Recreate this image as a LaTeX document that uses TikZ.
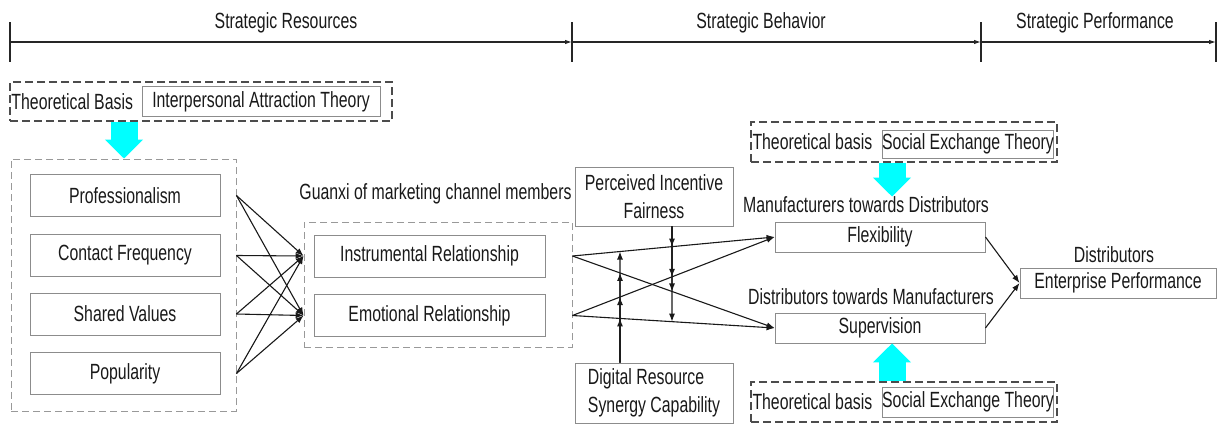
\documentclass[tikz,border=0pt]{standalone}
\usepackage{fontspec}
\setmainfont{Liberation Sans}[FakeStretch=0.72]
\usetikzlibrary{arrows.meta}
\definecolor{aqua}{RGB}{0,255,255}

\begin{document}
\begin{tikzpicture}[x=1pt,y=-1pt,
  lbl/.style={font=\fontsize{22}{28}\selectfont, text=black!90, inner sep=1pt},
  ibox/.style={lbl, draw=black!45, line width=0.9pt, rectangle, inner sep=0pt},
  grpbox/.style={draw=black!40, line width=0.9pt, dash pattern=on 7pt off 4pt, inner sep=0pt},
  thbox/.style={draw=black!70, line width=1.4pt, dash pattern=on 8pt off 4pt, inner sep=0pt},
  conn/.style={draw=black!90, line width=1.1pt, -{Latex[length=8pt,width=6pt]}},
  axis/.style={draw=black!85, line width=1.1pt},
  blockarrow/.style={draw=aqua, line width=27pt, -{Triangle[length=19pt,width=37pt]}},
]
\useasboundingbox (0,0) rectangle (1217,423);

% stage headings and time line
\node[lbl] (hR) at (286,23) {Strategic Resources};
\node[lbl] (hB) at (761,23) {Strategic Behavior};
\node[lbl] (hP) at (1095,23) {Strategic Performance};
\coordinate (t0) at (10,42);
\coordinate (t1) at (572,42);
\coordinate (t2) at (981,42);
\coordinate (t3) at (1216,42);
\foreach \t in {t0,t1,t2,t3}
  \draw[axis] ([yshift=20pt]\t) -- ([yshift=-20pt]\t);
\draw[axis,-{Latex[length=7pt,width=4.5pt]}] (t0) -- (t1);
\draw[axis,-{Latex[length=7pt,width=4.5pt]}] (t1) -- (t2);
\draw[axis,-{Latex[length=7pt,width=4.5pt]}] (t2) -- (t3);

% theoretical basis of the resources
\node[thbox, minimum width=382pt, minimum height=39pt] (tbL) at (201,101.5) {};
\node[lbl, anchor=west] (tbLt) at ([xshift=1pt]tbL.west) {Theoretical Basis};
\node[ibox, minimum width=238pt, minimum height=30pt] (tbLi) at (261,101.5) {Interpersonal Attraction Theory};

% resource factors
\node[grpbox, minimum width=225pt, minimum height=252pt] (grp) at (123.5,285) {};
\node[ibox, minimum width=190pt, minimum height=42pt] (pro) at (125,195.5) {Professionalism};
\node[ibox, minimum width=190pt, minimum height=42pt] (con) at (125,255.5) {Contact Frequency};
\node[ibox, minimum width=190pt, minimum height=42pt] (sha) at (125,314) {Shared Values};
\node[ibox, minimum width=190pt, minimum height=42pt] (pop) at (125,373.5) {Popularity};
\coordinate (aL) at (124,0);
\draw[blockarrow] (tbL.south -| aL) -- (grp.north -| aL);

% guanxi
\node[lbl] (gx) at (435.5,194) {Guanxi of marketing channel members};
\node[grpbox, minimum width=268pt, minimum height=125pt] (mid) at (438,284.5) {};
\node[ibox, minimum width=231pt, minimum height=42pt] (ins) at (429.5,256) {Instrumental Relationship};
\node[ibox, minimum width=231pt, minimum height=42pt] (emo) at (429.5,315.5) {Emotional Relationship};
\foreach \s in {pro,con,sha,pop}
  \foreach \d in {ins,emo}
    \draw[conn] (grp.east |- \s) -- (mid.west |- \d);

% moderators
\node[ibox, minimum width=158pt, minimum height=59pt, align=center] (per) at (654,196.5) {Perceived Incentive\\Fairness};
\node[ibox, minimum width=158pt, minimum height=60pt, align=left] (dig) at (654,393) {Digital Resource\\Synergy Capability};

% strategic behaviour
\node[lbl] (mtd) at (866,205) {Manufacturers towards Distributors};
\node[ibox, minimum width=210pt, minimum height=30pt] (flex) at (880,237) {Flexibility};
\node[lbl] (dtm) at (871,297) {Distributors towards Manufacturers};
\node[ibox, minimum width=210pt, minimum height=30pt] (sup) at (880,328) {Supervision};

\node[thbox, minimum width=306pt, minimum height=40pt] (tbT) at (904,142) {};
\node[lbl, anchor=west] (tbTt) at ([xshift=1pt]tbT.west) {Theoretical basis};
\node[ibox, minimum width=170pt, minimum height=28pt] (tbTi) at (968,144) {Social Exchange Theory};
\node[thbox, minimum width=306pt, minimum height=40pt] (tbB) at (904,402) {};
\node[lbl, anchor=west] (tbBt) at ([xshift=1pt]tbB.west) {Theoretical basis};
\node[ibox, minimum width=170pt, minimum height=30pt] (tbBi) at (968,402) {Social Exchange Theory};
\coordinate (aT) at (892,0);
\draw[blockarrow, shorten >=25pt] (tbT.south -| aT) -- (flex.north -| aT);
\draw[blockarrow] (tbB.north -| aT) -- (sup.south -| aT);

% performance
\node[lbl] (dis) at (1114,255) {Distributors};
\node[ibox, minimum width=196pt, minimum height=30pt] (ent) at (1118,283) {Enterprise Performance};

% relationships to behaviour
\coordinate (A1) at (mid.east |- ins);
\coordinate (A2) at (mid.east |- emo);
\draw[conn] (A1) -- (flex.west);
\draw[conn] (A1) -- (sup.west);
\draw[conn] (A2) -- (flex.west);
\draw[conn] (A2) -- (sup.west);

% moderating effects
\coordinate (dB) at ([xshift=-34pt]dig.north);
\coordinate (dT) at (dB |- per.south);
\coordinate (pB) at ([xshift=18pt]per.south);
\coordinate (pT) at (pB |- dig.north);
\foreach \a/\b in {A1/flex, A1/sup, A2/flex, A2/sup} {
  \draw[conn] (dB) -- (intersection of \a--\b.west and dB--dT);
  \draw[conn] (pB) -- (intersection of \a--\b.west and pB--pT);
}

\draw[conn] (flex.east) -- (ent.west);
\draw[conn] (sup.east) -- (ent.west);
\end{tikzpicture}
\end{document}
